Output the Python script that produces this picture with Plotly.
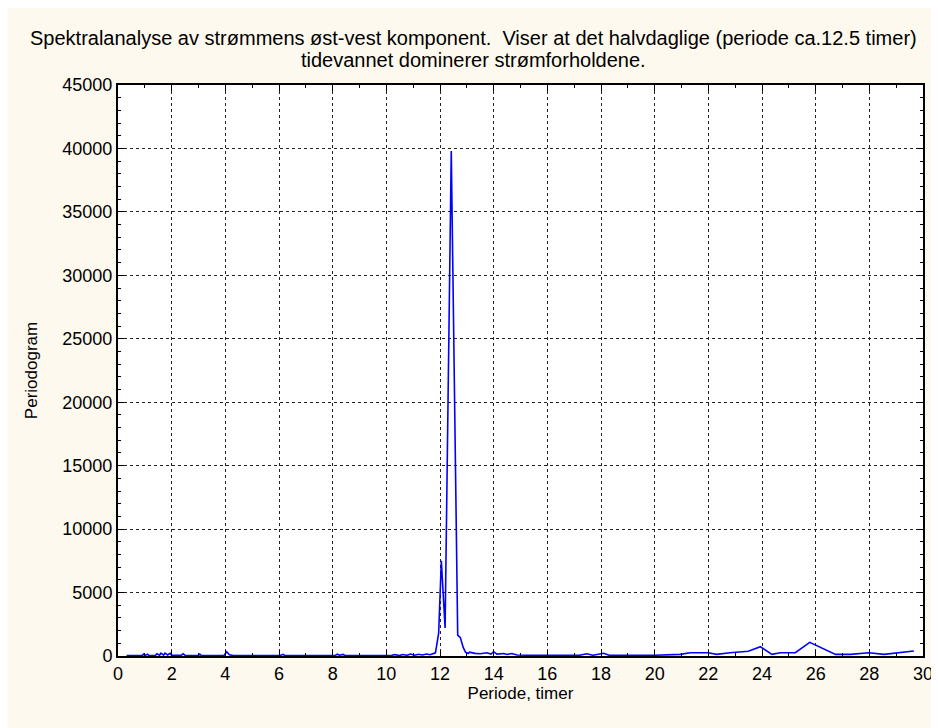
import plotly.graph_objects as go

# Periode (timer) og periodogram
periode = [0.32, 0.9, 0.95, 1.0, 1.1, 1.15, 1.4, 1.45, 1.55, 1.6, 1.7, 1.75, 1.85, 1.94, 2.0,
           2.35, 2.43, 2.5, 3.0, 3.05, 3.1, 3.95, 4.05, 4.15, 4.3, 6.05, 6.15, 6.2, 6.3,
           8.1, 8.17, 8.25, 8.39, 8.45, 10.2, 10.3, 10.5, 10.6, 10.78, 10.9, 11.05, 11.2,
           11.35, 11.5, 11.63, 11.83, 11.95, 12.05, 12.19, 12.42, 12.66, 12.76, 12.86,
           12.95, 13.05, 13.1, 13.3, 13.5, 13.75, 13.9, 14.0, 14.12, 14.37, 14.5, 14.68,
           14.87, 15.5, 16.5, 17.2, 17.47, 17.7, 18.1, 18.3, 19.0, 20.0, 20.95, 21.32,
           22.0, 22.31, 22.81, 23.49, 23.94, 24.37, 24.68, 25.24, 25.78, 26.74, 27.3,
           27.98, 28.55, 29.66]
periodogram = [40, 40, 150, 40, 140, 40, 50, 170, 60, 220, 70, 230, 80, 210, 50,
               50, 170, 50, 40, 140, 40, 40, 330, 90, 40, 40, 130, 60, 40,
               40, 150, 60, 130, 40, 40, 110, 40, 120, 60, 150, 60, 140,
               80, 160, 100, 250, 1800, 7500, 2200, 39800, 1650, 1450, 700,
               300, 200, 300, 210, 180, 250, 150, 340, 150, 200, 120, 200,
               80, 50, 50, 60, 180, 60, 220, 60, 50, 60, 130, 260,
               260, 130, 260, 370, 730, 130, 260, 260, 1080, 130, 130,
               260, 130, 390]

tittel = ["Spektralanalyse av strømmens øst-vest komponent.  Viser at det halvdaglige (periode ca.12.5 timer)",
          "tidevannet dominerer strømforholdene."]

FONT = "Arial, Liberation Sans, sans-serif"
BG = "#fdf9ee"

# siden har 8px hvit kant (body margin), figuren fyller resten
W, H = 931, 720
L, R, T, B = 110, 16, 77, 72
PH = H - T - B

fig = go.Figure(go.Scatter(x=periode, y=periodogram, mode="lines",
                           line=dict(color="#0000ff", width=1.6)))

axis_common = dict(
    showgrid=True, gridcolor="#222222", griddash="dot", gridwidth=1.2,
    zeroline=False, showline=True, linecolor="black", linewidth=2,
    mirror="allticks", ticks="inside", ticklen=6, tickwidth=1, tickcolor="black",
    tickfont=dict(family=FONT, size=18, color="black"),
    tickformat="d", automargin=False,
)

fig.update_layout(
    width=W, height=H,
    margin=dict(l=L, r=R, t=T, b=B),
    paper_bgcolor=BG, plot_bgcolor="white",
    showlegend=False,
    xaxis=dict(range=[0, 30], tick0=0, dtick=2,
               minor=dict(dtick=1, ticks="inside", ticklen=3, tickcolor="black", showgrid=False),
               title=dict(text="Periode, timer", standoff=0,
                          font=dict(family=FONT, size=17, color="black")),
               **axis_common),
    yaxis=dict(range=[0, 45000], tick0=0, dtick=5000,
               minor=dict(dtick=1000, ticks="inside", ticklen=3, tickcolor="black", showgrid=False),
               title=dict(text="Periodogram", standoff=20,
                          font=dict(family=FONT, size=17, color="black")),
               **axis_common),
)

# tittel i to linjer, sentrert på figuren
xc = (W / 2 - L) / (W - L - R)
for txt, ypx in zip(tittel, [30, 52]):
    fig.add_annotation(text=txt, xref="paper", yref="paper", x=xc, y=1 + (T - ypx) / PH,
                       xanchor="center", yanchor="middle", showarrow=False,
                       font=dict(family=FONT, size=20, color="black"))

fig.write_html("out.html")
